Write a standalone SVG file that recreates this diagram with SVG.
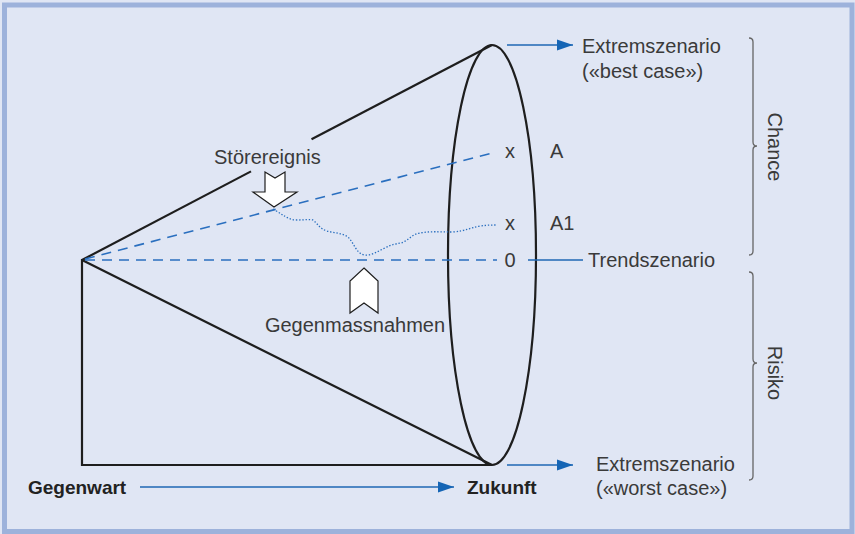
<svg xmlns="http://www.w3.org/2000/svg" width="855" height="534" viewBox="0 0 855 534">
<style>
.t{font-family:"Liberation Sans",Arial,sans-serif;font-size:20px;fill:#3a3a3a}
.b{font-family:"Liberation Sans",Arial,sans-serif;font-size:19px;font-weight:bold;fill:#222}
.k{stroke:#1e1e1e;stroke-width:2.2;fill:none}
.d{stroke:#2a6fbf;stroke-width:1.6;fill:none;stroke-dasharray:10,7}
.bl{stroke:#1f67b4;stroke-width:1.6;fill:none}
.br{stroke:#666;stroke-width:1.3;fill:none}
.wa{fill:#fff;stroke:#1e1e1e;stroke-width:1.2;stroke-linejoin:miter}
</style>
<defs>
<marker id="ah" markerWidth="16" markerHeight="12" refX="16" refY="6" orient="auto" markerUnits="userSpaceOnUse">
<path d="M0,0.5 L16,6 L0,11.5 Z" fill="#1565b5"/>
</marker>
</defs>
<rect x="0" y="0" width="855" height="534" fill="#e0e6f4"/>
<rect x="4.5" y="5" width="847.5" height="526.5" fill="none" stroke="#9db2db" stroke-width="5"/>

<g id="cone">
<line class="k" x1="82" y1="260" x2="251" y2="171.4"/>
<line class="k" x1="311.5" y1="139.3" x2="492" y2="45"/>
<line class="k" x1="82" y1="260" x2="492" y2="465"/>
<polyline class="k" points="82,259 82,465 492,465"/>
<ellipse class="k" cx="492" cy="255" rx="44" ry="210"/>
</g>

<g id="connectors">
<line class="d" x1="85" y1="260" x2="497" y2="260"/>
<line class="d" x1="85" y1="259" x2="494" y2="152.5"/>
<path d="M273,209 C282,214 288,220 297,220 C305,220 310,219 313,220 C318,224 320,229 327,231 C334,233 342,233 348,237 C354,243 356,253 364,255 C372,256 378,251 385,248 C392,244 396,244 401,243 C408,241 412,234 420,233 C430,231 440,232 453,232 C465,231 470,228 480,226 C488,225 492,225 497,225" stroke="#2a6fbf" stroke-width="1.3" fill="none" stroke-dasharray="1.4,1.8"/>
<line class="bl" x1="528" y1="260" x2="583" y2="260"/>
<line class="bl" x1="507" y1="45" x2="573" y2="45" marker-end="url(#ah)"/>
<line class="bl" x1="507" y1="465" x2="573" y2="465" marker-end="url(#ah)"/>
<line class="bl" x1="140" y1="487" x2="454" y2="487" marker-end="url(#ah)"/>
</g>

<g id="stoerereignis">
<text class="t" x="214" y="164">Störereignis</text>
<path class="wa" d="M265,172 L275,178 L285,172 L285,192 L297,192 L274,207 L253,192 L265,192 Z"/>
</g>

<g id="gegenmassnahmen">
<path class="wa" d="M364,268 L378,281 L378,313 L364,303 L350,313 L350,281 Z"/>
<text class="t" x="355" y="332" text-anchor="middle">Gegenmassnahmen</text>
</g>

<g id="labels">
<text class="t" x="510" y="158" text-anchor="middle">x</text>
<text class="t" x="550" y="158">A</text>
<text class="t" x="510" y="230" text-anchor="middle">x</text>
<text class="t" x="550" y="230">A1</text>
<text class="t" x="510" y="267" text-anchor="middle">0</text>
</g>

<g id="trendszenario">
<text class="t" x="588" y="267">Trendszenario</text>
</g>

<g id="best">
<text class="t" x="582" y="53">Extremszenario</text>
<text class="t" x="582" y="78">(«best case»)</text>
</g>

<g id="worst">
<text class="t" x="596" y="471">Extremszenario</text>
<text class="t" x="596" y="495">(«worst case»)</text>
</g>

<g id="zeit">
<text class="b" x="28" y="494">Gegenwart</text>
<text class="b" x="467" y="494">Zukunft</text>
</g>

<g id="chance">
<path class="br" d="M749,38 Q753,38 753,42 L753,142 Q753,146 757,146 Q753,146 753,150 L753,251 Q753,255 749,255"/>
<text class="t" transform="translate(768,147) rotate(90)" text-anchor="middle">Chance</text>
</g>

<g id="risiko">
<path class="br" d="M749,272 Q753,272 753,276 L753,359 Q753,363 757,363 Q753,363 753,367 L753,476 Q753,480 749,480"/>
<text class="t" transform="translate(768,373) rotate(90)" text-anchor="middle">Risiko</text>
</g>
</svg>
